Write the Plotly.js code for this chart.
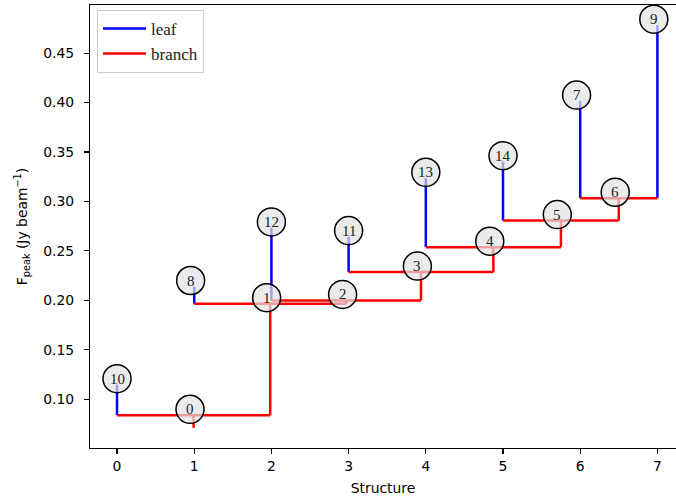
<!DOCTYPE html>
<html>
<head>
<meta charset="utf-8">
<script src="https://cdn.plot.ly/plotly-3.0.1.min.js"></script>
<style>html,body{margin:0;padding:0;overflow:hidden;background:#fff;}</style>
</head>
<body>
<div id="chart" style="width:676px;height:504px;"></div>
<script>
// ---- data ----
// leaf order along the x axis
const leafOrder = [10, 8, 12, 11, 13, 14, 7, 9];
// branch ids and their two children
const branchIds = [0, 1, 2, 3, 4, 5, 6];
const branchChildren = [[10, 1], [8, 2], [12, 3], [11, 4], [13, 5], [14, 6], [7, 9]];
// peak (leaves) / merge level (branches), Jy beam^-1, indexed by structure id 0..14
const structHeight = [0.0836, 0.1965, 0.1998, 0.2285, 0.2537, 0.2806, 0.3032,
                      0.4015, 0.2139, 0.4783, 0.1146, 0.2644, 0.2732, 0.3234, 0.3402];
const rootBase = 0.0709;
const xTicks = [0, 1, 2, 3, 4, 5, 6, 7];
const yTicks = [0.05, 0.10, 0.15, 0.20, 0.25, 0.30, 0.35, 0.40, 0.45];

// ---- hierarchy -> positions ----
const isLeaf = {}; leafOrder.forEach(id => isLeaf[id] = true);
const children = {}; branchIds.forEach((b, i) => children[b] = branchChildren[i]);
const parent = {};
branchIds.forEach((b, i) => branchChildren[i].forEach(c => parent[c] = b));
const xpos = {};
leafOrder.forEach((id, i) => xpos[id] = i);
function getX(id) {
  if (xpos[id] !== undefined) return xpos[id];
  const c = children[id];
  xpos[id] = (getX(c[0]) + getX(c[1])) / 2;
  return xpos[id];
}
const allIds = structHeight.map((_, i) => i);
allIds.forEach(getX);

const leafX = [], leafY = [], brX = [], brY = [];
allIds.forEach(id => {
  const x = xpos[id];
  const base = parent[id] === undefined ? rootBase : structHeight[parent[id]];
  const top = structHeight[id];
  if (isLeaf[id]) {
    leafX.push(x, x, null); leafY.push(base, top, null);
  } else {
    brX.push(x, x, null); brY.push(base, top, null);
    const c = children[id];
    brX.push(getX(c[0]), getX(c[1]), null); brY.push(top, top, null);
  }
});

const traces = [
  {x: leafX, y: leafY, mode: 'lines', name: 'leaf', line: {color: '#0000ff', width: 2.5}, hoverinfo: 'skip'},
  {x: brX, y: brY, mode: 'lines', name: 'branch', line: {color: '#ff0000', width: 2.5}, hoverinfo: 'skip'}
];

const shapes = [], annotations = [];
const R = 14, DY = 6;
allIds.forEach(id => {
  const label = String(id);
  const dx = (label.length - 2) * 3.6;
  shapes.push({
    type: 'circle', xref: 'x', yref: 'y', xsizemode: 'pixel', ysizemode: 'pixel',
    xanchor: xpos[id], yanchor: structHeight[id],
    x0: dx - R, x1: dx + R, y0: DY - R, y1: DY + R,
    fillcolor: 'rgba(226,226,226,0.7)', line: {color: '#000', width: 1.5}, layer: 'above'
  });
  annotations.push({
    x: xpos[id], y: structHeight[id], xref: 'x', yref: 'y', text: label, showarrow: false,
    xshift: dx, yshift: DY, xanchor: 'center', yanchor: 'middle',
    font: {family: 'Liberation Serif, serif', size: 15, color: '#222'}
  });
});

const layout = {
  width: 676, height: 504,
  margin: {l: 90, r: 0, t: 5, b: 56},
  paper_bgcolor: '#fff', plot_bgcolor: '#fff',
  showlegend: true,
  legend: {x: 0.012, y: 0.989, xanchor: 'left', yanchor: 'top', itemwidth: 43,
           bgcolor: 'rgba(255,255,255,0.8)', bordercolor: '#cccccc', borderwidth: 1,
           font: {family: 'Liberation Serif, serif', size: 17, color: '#222'}},
  xaxis: {range: [-0.35, 7.241], tickvals: xTicks, ticktext: xTicks.map(String),
          showgrid: false, zeroline: false, showline: true, linecolor: '#000', linewidth: 1.1,
          mirror: true, ticks: 'outside', ticklen: 5, tickwidth: 1.1, tickcolor: '#000',
          tickfont: {family: 'DejaVu Sans, sans-serif', size: 13.9, color: '#000'},
          title: {text: 'Structure', font: {family: 'DejaVu Sans, sans-serif', size: 13.9, color: '#000'}, standoff: 10},
          automargin: false},
  yaxis: {range: [0.0505, 0.4987], tickvals: yTicks, ticktext: yTicks.map(v => v.toFixed(2)),
          showgrid: false, zeroline: false, showline: true, linecolor: '#000', linewidth: 1.1,
          mirror: false, ticks: 'outside', ticklen: 5, tickwidth: 1.1, tickcolor: '#000',
          ticklabelstandoff: 7,
          tickfont: {family: 'DejaVu Sans, sans-serif', size: 13.9, color: '#000'},
          title: {text: 'F<sub>peak</sub> (Jy beam<sup>−1</sup>)', font: {family: 'DejaVu Sans, sans-serif', size: 13.9, color: '#000'}, standoff: 12},
          automargin: false},
  shapes: shapes,
  annotations: annotations
};

Plotly.newPlot('chart', traces, layout, {displayModeBar: false, staticPlot: true});
</script>
</body>
</html>
